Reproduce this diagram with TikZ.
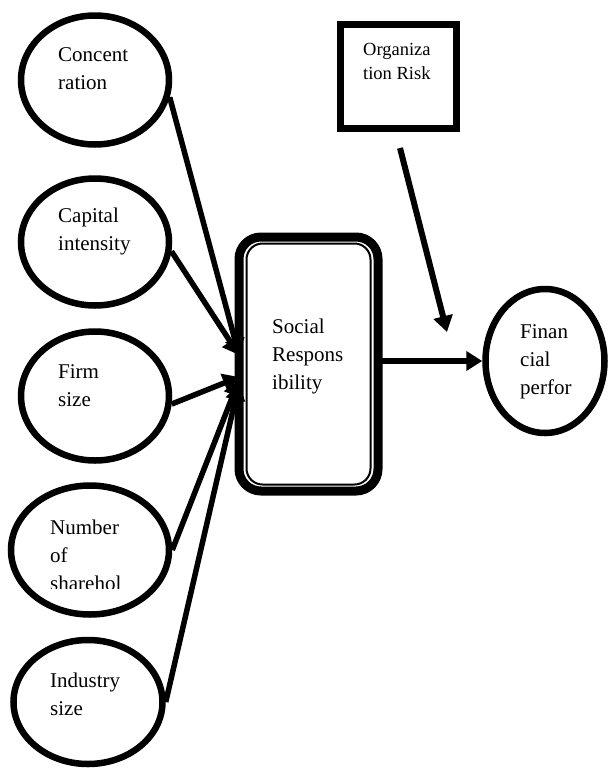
\documentclass[tikz,border=0pt]{standalone}
\usepackage{fontspec}
\setmainfont{Liberation Serif}
\usetikzlibrary{arrows.meta}
\usetikzlibrary{shapes.geometric}

\tikzset{
  factor/.style={ellipse, draw, line width=6.5pt, inner sep=0pt},
  lbl/.style={anchor=west, align=left, inner sep=0pt, font=\fontsize{21}{28}\selectfont},
  link/.style={line width=5.5pt, -{Triangle[length=16pt,width=19pt]}},
}

\begin{document}
\begin{tikzpicture}[x=1pt, y=-1pt]
\useasboundingbox (0,0) rectangle (611,769);

% determinants
\node[factor, minimum width=148pt, minimum height=129pt] (conc) at (95,80) {};
\node[factor, minimum width=148pt, minimum height=127pt] (cap) at (95,242) {};
\node[factor, minimum width=148pt, minimum height=129pt] (firm) at (95,396) {};
\node[factor, minimum width=158pt, minimum height=129pt] (share) at (90,550) {};
\node[factor, minimum width=149pt, minimum height=124pt] (ind) at (88,702) {};

\node[lbl] (conc-t) at (58,69) {Concent\\ration};
\node[lbl] (cap-t) at (58,231) {Capital\\intensity};
\node[lbl] (firm-t) at (58,386) {Firm\\size};
\begin{scope}
\clip (0,480) rectangle (200,588);
\node[lbl] (share-t) at (50,555) {Number\\of\\sharehol};
\end{scope}
\node[lbl] (ind-t) at (50,694) {Industry\\size};

% mediator
\node[draw, line width=9pt, rounded corners=22pt, minimum width=139pt, minimum height=254pt,
  inner sep=0pt, outer sep=0pt] (sr) at (308.5,364) {};
\draw[line width=2pt, rounded corners=16pt] ([shift={(7.5,6.5)}]sr.north west) rectangle ([shift={(-7.5,-6.5)}]sr.south east);
\node[lbl] (sr-t) at (272,356) {Social\\Respons\\ibility};

% moderator
\node[draw, line width=7pt, minimum width=116pt, minimum height=104pt,
  inner sep=0pt, outer sep=0pt] (org) at (398,76) {};
\node[lbl, font=\fontsize{18.5}{24}\selectfont] (org-t) at (363,61) {Organiza\\tion Risk};

% outcome
\node[factor, minimum width=119pt, minimum height=144pt] (fin) at (545,361) {};
\node[lbl] (fin-t) at (520,362) {Finan\\cial\\perfor};

\coordinate (org-tip) at (447,332);

\path[link]
(conc.-13) edge ([yshift=9pt]sr.west)
(cap.-7) edge ([yshift=9pt]sr.west)
(firm.-6) edge ([yshift=-13pt]sr.west)
(share.east) edge ([yshift=-16pt]sr.west)
(ind.east) edge ([yshift=-20pt]sr.west)
;
\draw[link, line width=6pt] (sr.east |- fin.west) -- (fin.west);
\draw[link, line width=6pt] ([shift={(2,20)}]org.south) -- (org-tip);
\end{tikzpicture}
\end{document}
